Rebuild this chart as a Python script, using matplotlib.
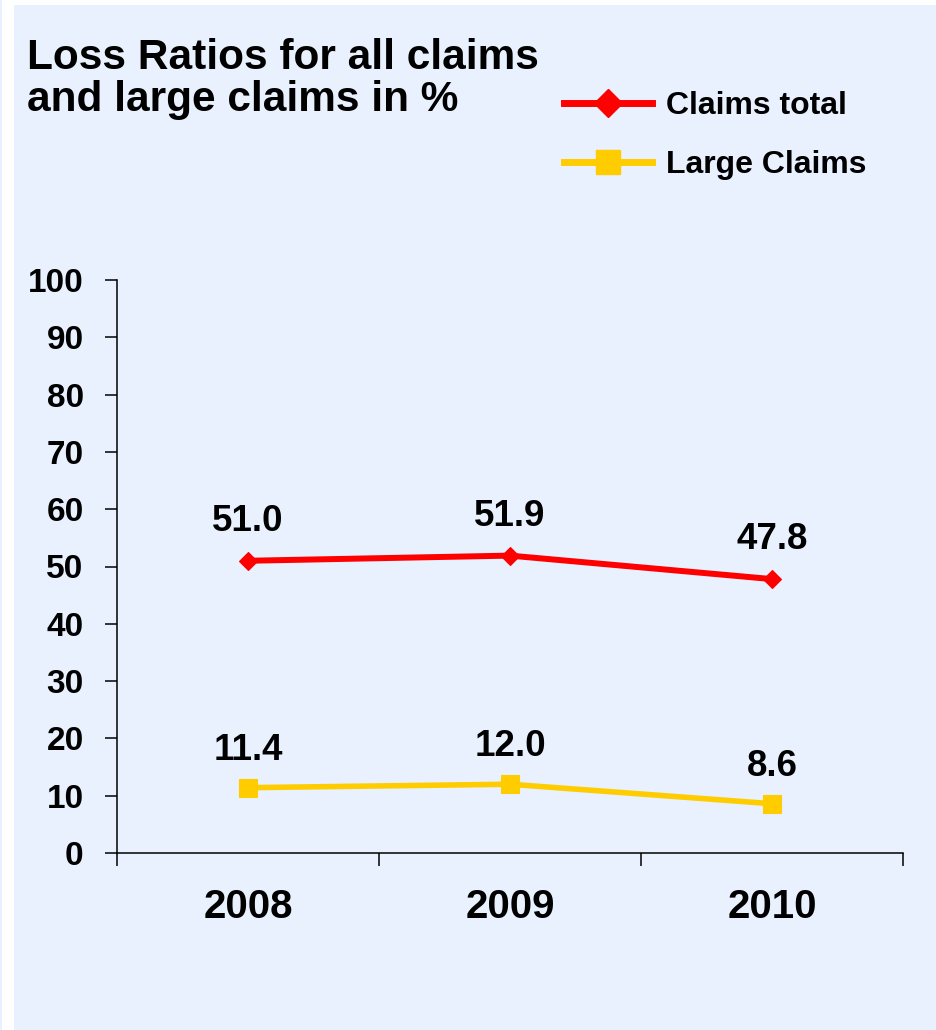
import matplotlib
matplotlib.use("Agg")
import matplotlib.pyplot as plt
from matplotlib.lines import Line2D
from matplotlib.patches import Rectangle

plt.rcParams['font.family'] = ['Liberation Sans', 'DejaVu Sans']
plt.rcParams['font.weight'] = 'bold'

years = ["2008", "2009", "2010"]
claims_total = [51.0, 51.9, 47.8]
large_claims = [11.4, 12.0, 8.6]
title = "Loss Ratios for all claims\nand large claims in %"
series_names = ["Claims total", "Large Claims"]

BG = "#E8F1FD"
RED = "#FF0000"
YEL = "#FFCC00"

W, H = 936, 1030
fig = plt.figure(figsize=(W / 100, H / 100), dpi=100, facecolor="white")
fig.patches.append(Rectangle((14 / W, 0), 1 - 14 / W, 1 - 5 / H, transform=fig.transFigure,
                             facecolor=BG, edgecolor="none", zorder=-10))
fig.patches.append(Rectangle((0, 0), 2 / W, 1, transform=fig.transFigure,
                             facecolor=BG, edgecolor="none", zorder=-10))

ax = fig.add_axes([117 / W, 1 - 853 / H, (903 - 117) / W, (853 - 280) / H])
ax.set_facecolor("none")

x = list(range(len(years)))
ax.plot(x, claims_total, color=RED, lw=4.3, marker="D", ms=9.5, mew=0.8, mec=RED, mfc=RED,
        solid_joinstyle="round", zorder=3)
ax.plot(x, large_claims, color=YEL, lw=4.0, marker="s", ms=13, mew=0.8, mec=YEL, mfc=YEL,
        zorder=3)

for xi, v in zip(x, claims_total):
    ax.annotate(f"{v:.1f}", (xi, v), xytext=(0, 21.5), textcoords="offset points",
                ha="center", va="baseline", fontsize=26.5, fontweight="bold")
for xi, v in zip(x, large_claims):
    ax.annotate(f"{v:.1f}", (xi, v), xytext=(0, 20), textcoords="offset points",
                ha="center", va="baseline", fontsize=26.5, fontweight="bold")

ax.set_xlim(-0.5, len(years) - 0.5)
ax.set_ylim(0, 100)
ax.set_yticks(range(0, 101, 10))
ax.set_xticks([i - 0.5 for i in range(len(years) + 1)])
ax.set_xticklabels([])
ax.set_xticks(x, minor=True)
ax.set_xticklabels(years, minor=True, fontsize=29, fontweight="bold")
ax.tick_params(axis="x", which="major", direction="out", length=9, width=1.1)
ax.tick_params(axis="x", which="minor", length=0, pad=25)
ax.tick_params(axis="y", direction="out", length=9, width=1.1, labelsize=24, pad=15)
for lab in ax.get_yticklabels():
    lab.set_fontweight("bold")

for s in ["top", "right"]:
    ax.spines[s].set_visible(False)
for s in ["left", "bottom"]:
    ax.spines[s].set_linewidth(1.1)
    ax.spines[s].set_color("black")

fig.text(27 / W, 1 - 38 / H, title, ha="left", va="top", fontsize=30.5, fontweight="bold",
         linespacing=1.08)

handles = [
    Line2D([], [], color=RED, lw=5, marker="D", ms=14, mec=RED, mfc=RED),
    Line2D([], [], color=YEL, lw=5, marker="s", ms=17, mec=YEL, mfc=YEL),
]
fig.legend(handles, series_names, loc="upper left", bbox_to_anchor=(564 / W, 1 - 91 / H),
           frameon=False, prop={"weight": "bold", "size": 23},
           handlelength=2.75, handletextpad=0.45, labelspacing=0.92,
           borderpad=0, borderaxespad=0)

fig.savefig("out.png", dpi=100, facecolor="white")
